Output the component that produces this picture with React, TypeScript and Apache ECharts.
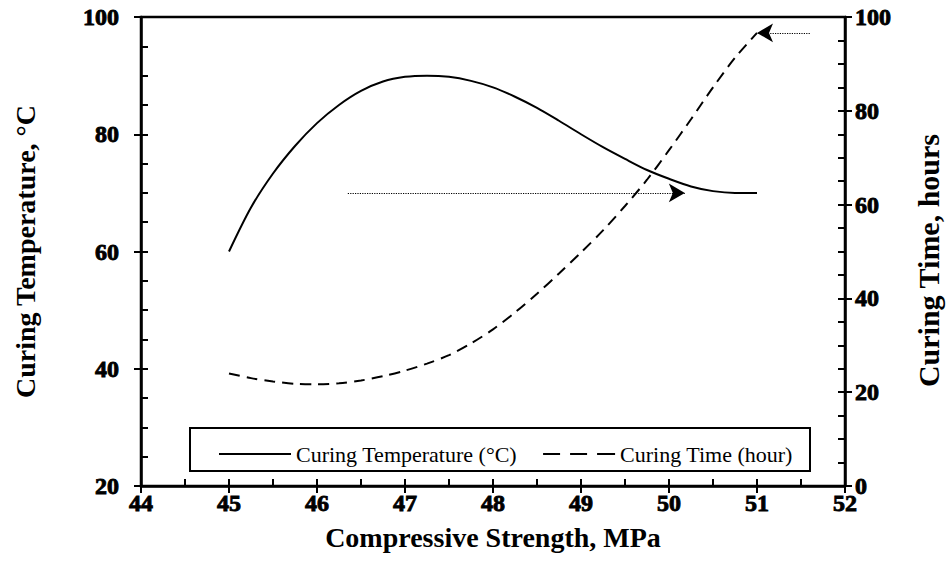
import React, { useEffect, useRef } from "react";
import * as echarts from "echarts";

const strength = [45, 45.25, 45.5, 45.75, 46, 46.25, 46.5, 46.75, 47, 47.25, 47.5, 47.75, 48, 48.25, 48.5, 48.75, 49, 49.25, 49.5, 49.75, 50, 50.25, 50.5, 50.75, 51];
const curingTemperature = [60, 67.5, 73.3, 78, 81.9, 85, 87.4, 89, 89.8, 90, 89.8, 89.1, 88, 86.4, 84.5, 82.3, 80, 77.8, 75.8, 73.9, 72.4, 71.1, 70.3, 70, 70];
const curingTime = [24, 23, 22.3, 21.8, 21.7, 21.9, 22.5, 23.4, 24.6, 26.1, 27.9, 30.4, 33.4, 37, 41, 45.3, 49.8, 54.5, 59.7, 65.3, 71.6, 78.2, 85, 91.3, 96.6];
const tempArrow = [[46.35, 70], [50.18, 70]];
const timeArrow = [[51.6, 96.6], [51.0, 96.6]];
const seriesNames = ["Curing Temperature (°C)", "Curing Time (hour)"];

const SERIF = "Liberation Serif";

export default function App() {
  const ref = useRef<HTMLDivElement>(null);
  useEffect(() => {
    if (!ref.current) return;
    const chart = echarts.init(ref.current, undefined, { renderer: "svg" });
    const axisLine = { show: true, lineStyle: { color: "#000", width: 2.5 } };
    const labelStyle = {
      color: "#000", fontFamily: SERIF, fontWeight: "bold", fontSize: 24,
      textBorderColor: "#000", textBorderWidth: 0.9,
    };
    const nameStyle = { color: "#000", fontFamily: SERIF, fontWeight: "bold", fontSize: 28 };
    const majorTick = { show: true, inside: false, length: 7, lineStyle: { color: "#000", width: 2 } };
    const helper = (extra: any) => ({
      type: "value",
      axisLine: { show: false },
      axisLabel: { show: false },
      splitLine: { show: false },
      axisTick: { show: true, inside: true, length: 7, lineStyle: { color: "#000", width: 2 } },
      ...extra,
    });
    const option: any = {
      animation: false,
      backgroundColor: "#fff",
      textStyle: { fontFamily: SERIF, color: "#000" },
      grid: { left: 141, right: 102, top: 17, bottom: 87, show: true, borderColor: "#000", borderWidth: 2.5, containLabel: false, outerBoundsMode: "none" },
      xAxis: [
        {
          type: "value", position: "bottom", min: 44, max: 52, interval: 1,
          axisLine, splitLine: { show: false }, axisTick: majorTick,
          axisLabel: { ...labelStyle, margin: 5 },
          name: "Compressive Strength, MPa", nameLocation: "middle", nameGap: 37, nameTextStyle: nameStyle,
        },
        helper({ position: "bottom", min: 44, max: 52, interval: 0.5 }),
      ],
      yAxis: [
        {
          type: "value", position: "left", min: 20, max: 100, interval: 20,
          axisLine, splitLine: { show: false }, axisTick: majorTick,
          axisLabel: { ...labelStyle, margin: 22 },
          name: "Curing Temperature, °C", nameLocation: "middle", nameGap: 102, nameTextStyle: nameStyle,
        },
        {
          type: "value", position: "right", min: 0, max: 100, interval: 20,
          axisLine, splitLine: { show: false }, axisTick: majorTick,
          axisLabel: { ...labelStyle, margin: 10 },
          name: "Curing Time, hours", nameLocation: "middle", nameGap: 68, nameRotate: 90,
          nameTextStyle: { ...nameStyle, fontSize: 30, padding: [0, 18, 0, 0] },
        },
        helper({ position: "left", min: 20, max: 100, interval: 5 }),
        helper({ position: "right", min: 0, max: 100, interval: 5 }),
      ],
      legend: {
        left: 214, top: 438, itemWidth: 72, itemHeight: 2, itemGap: 26,
        data: [
          { name: seriesNames[0], icon: "path://M0,0h72v2h-72z" },
          { name: seriesNames[1], icon: "path://M0,0h17v2h-17z M27,0h17v2h-17z M54,0h18v2h-18z" },
        ],
        itemStyle: { color: "#000", borderWidth: 0 },
        textStyle: { color: "#000", fontFamily: SERIF, fontWeight: "normal", fontSize: 22 },
      },
      graphic: [
        { type: "rect", shape: { x: 190, y: 428, width: 620, height: 43 }, style: { fill: "#fff", stroke: "#000", lineWidth: 2 }, z: 1 },
      ],
      series: [
        {
          name: seriesNames[0], type: "line", xAxisIndex: 0, yAxisIndex: 0, smooth: 0.3, showSymbol: false, symbol: "none",
          data: strength.map((x, i) => [x, curingTemperature[i]]),
          lineStyle: { color: "#000", width: 2, type: "solid" }, itemStyle: { color: "#000" },
          markLine: {
            silent: true, symbol: ["none", "arrow"], symbolSize: [14, 16],
            lineStyle: { color: "#000", width: 1.2, type: "dotted" }, label: { show: false },
            data: [[{ coord: tempArrow[0] }, { coord: tempArrow[1] }]],
          },
        },
        {
          name: seriesNames[1], type: "line", xAxisIndex: 0, yAxisIndex: 1, smooth: 0.3, showSymbol: false, symbol: "none",
          data: strength.map((x, i) => [x, curingTime[i]]),
          lineStyle: { color: "#000", width: 2, type: [11, 7] }, itemStyle: { color: "#000" },
          markLine: {
            silent: true, symbol: ["none", "arrow"], symbolSize: [14, 16],
            lineStyle: { color: "#000", width: 1.2, type: "dotted" }, label: { show: false },
            data: [[{ coord: timeArrow[0] }, { coord: timeArrow[1] }]],
          },
        },
      ],
    };
    chart.setOption(option);
    return () => chart.dispose();
  }, []);
  return <div ref={ref} style={{ width: 947, height: 573, position: "absolute", left: 0, top: 0 }} />;
}
